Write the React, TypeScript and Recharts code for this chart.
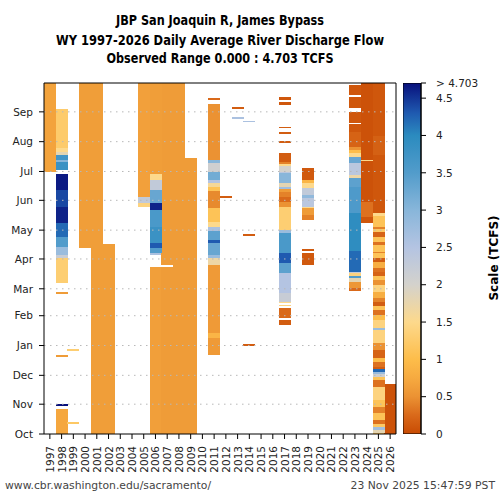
import React from "react";
import { Bar, BarChart, ReferenceLine, XAxis, YAxis } from "recharts";

// [startDay, endDay, TCFS] with day 0 = Oct 1 of the water year
type Seg = [number, number, number];

const years = [
  "1997", "1998", "1999", "2000", "2001", "2002", "2003", "2004", "2005", "2006",
  "2007", "2008", "2009", "2010", "2011", "2012", "2013", "2014", "2015", "2016",
  "2017", "2018", "2019", "2020", "2021", "2022", "2023", "2024", "2025", "2026",
];

const monthTicks = [0, 31, 61, 92, 123, 151, 182, 212, 243, 273, 304, 335];
const monthLabels = ["Oct", "Nov", "Dec", "Jan", "Feb", "Mar", "Apr", "May", "Jun", "Jul", "Aug", "Sep"];

const maxFlow = 4.703;
const scaleTicks = [0, 0.5, 1, 1.5, 2, 2.5, 3, 3.5, 4, 4.5, 4.703];

const wy1997: Seg[] = [[272, 365, 0.68]];
const wy1998: Seg[] = [
  [0, 26, 0.72], [29, 31, 4.7], [80, 82, 0.6], [146, 148, 0.6], [157, 183, 1.3], [183, 186, 2.2],
  [186, 194, 2.8], [194, 205, 3.5], [205, 219, 4.2], [219, 236, 4.6], [236, 254, 4.4], [254, 270, 4.65],
  [275, 283, 3.8], [283, 285, 3.0], [285, 290, 3.7], [290, 293, 1.8], [293, 297, 1.5], [297, 338, 1.25],
];
const wy1999: Seg[] = [[10, 12, 1.2], [86, 88, 1.3]];
const wy2000: Seg[] = [[193, 365, 0.62]];
const wy2001: Seg[] = [[0, 365, 0.62]];
const wy2002: Seg[] = [[0, 198, 0.62]];
const wy2003: Seg[] = [];
const wy2004: Seg[] = [];
const wy2005: Seg[] = [[236, 240, 1.4], [240, 246, 2.3], [246, 365, 0.65]];
const wy2006: Seg[] = [
  [0, 174, 0.64], [186, 188, 2.6], [188, 193, 3.5], [193, 199, 4.3], [199, 215, 3.8], [215, 233, 3.6],
  [233, 240, 4.6], [240, 254, 3.3], [254, 264, 2.3], [264, 270, 1.5], [270, 365, 0.62],
];
const wy2007: Seg[] = [[0, 174, 0.6], [176, 365, 0.6]];
const wy2008: Seg[] = [[0, 365, 0.6]];
const wy2009: Seg[] = [[0, 287, 0.6]];
const wy2010: Seg[] = [];
const wy2011: Seg[] = [
  [82, 100, 0.58], [100, 105, 0.9], [105, 176, 0.58], [176, 183, 1.7], [183, 186, 2.8], [186, 199, 3.3],
  [199, 202, 4.3], [202, 211, 3.4], [211, 215, 2.6], [215, 220, 1.5], [220, 235, 1.1], [235, 253, 0.45],
  [253, 257, 1.1], [257, 261, 1.6], [261, 264, 2.5], [264, 272, 3.2], [272, 282, 2.1], [282, 285, 3.0],
  [285, 343, 0.5], [347, 349, 0.25],
];
const wy2012: Seg[] = [[245, 247, 0.15]];
const wy2013: Seg[] = [[328, 330, 2.6], [338, 340, 0.15]];
const wy2014: Seg[] = [[92, 94, 0.15], [206, 208, 0.15], [324, 326, 2.6]];
const wy2015: Seg[] = [];
const wy2016: Seg[] = [];
const wy2017: Seg[] = [
  [113, 119, 0.15], [121, 131, 0.25], [133, 134, 1.4], [136, 137, 1.5], [137, 147, 2.2], [147, 167, 2.5],
  [167, 178, 3.4], [178, 188, 4.3], [188, 209, 3.6], [209, 212, 2.8], [212, 236, 1.3], [236, 241, 0.5],
  [241, 246, 0.25], [246, 252, 0.4], [252, 255, 0.6], [255, 257, 2.7], [257, 261, 1.8], [261, 271, 3.0],
  [271, 272, 2.4], [272, 279, 2.0], [279, 281, 1.5], [281, 283, 0.4], [283, 292, 0.15], [303, 305, 0.15],
  [312, 314, 0.15], [318, 319, 0.15], [342, 345, 0.1], [347, 350, 0.1],
];
const wy2018: Seg[] = [];
const wy2019: Seg[] = [
  [176, 188, 0.12], [190, 192, 0.12], [223, 228, 0.4], [228, 235, 0.6], [235, 236, 1.5], [236, 245, 2.4],
  [245, 249, 2.9], [249, 256, 2.3], [256, 261, 1.5], [261, 264, 0.9], [264, 277, 0.12],
];
const wy2020: Seg[] = [];
const wy2021: Seg[] = [];
const wy2022: Seg[] = [];
const wy2023: Seg[] = [
  [149, 152, 0.25], [152, 158, 0.55], [158, 162, 1.8], [162, 164, 3.5], [164, 167, 1.4], [167, 168, 2.2],
  [168, 190, 4.2], [190, 230, 3.95], [230, 257, 3.55], [257, 266, 3.4], [266, 269, 1.7], [269, 282, 2.4],
  [282, 288, 3.3], [288, 292, 1.5], [292, 295, 1.0], [295, 298, 0.5], [298, 314, 0.2], [314, 322, 0.1],
  [323, 335, 0.1], [339, 350, 0.1], [353, 363, 0.1],
];
const wy2024: Seg[] = [[219, 226, 0.1], [226, 241, 0.3], [241, 284, 0.06], [284, 285, 1.5], [285, 365, 0.06]];
const wy2025: Seg[] = [
  [0, 1, 1.2], [1, 4, 1.8], [4, 7, 2.7], [7, 10, 1.2], [10, 15, 0.3], [15, 22, 1.1], [22, 28, 0.4],
  [28, 35, 1.1], [35, 49, 1.4], [49, 56, 0.3], [56, 59, 1.1], [59, 62, 2.1], [62, 64, 2.8], [64, 68, 4.2],
  [68, 70, 0.15], [70, 75, 0.3], [75, 79, 1.0], [79, 87, 0.2], [87, 95, 0.5], [95, 108, 1.4], [108, 110, 2.8],
  [110, 119, 1.4], [119, 124, 1.0], [124, 129, 0.3], [129, 133, 1.1], [133, 137, 0.15], [137, 141, 0.4],
  [141, 148, 0.8], [148, 155, 1.4], [155, 160, 0.5], [160, 164, 1.1], [164, 168, 0.2], [168, 173, 0.3],
  [173, 179, 0.8], [179, 183, 0.15], [183, 188, 1.1], [188, 189, 0.4], [189, 197, 1.1], [197, 200, 0.3],
  [200, 205, 1.1], [205, 210, 0.2], [210, 213, 1.2], [213, 215, 0.4], [215, 227, 1.1], [227, 230, 1.5],
  [230, 290, 0.1], [290, 310, 0.18], [310, 365, 0.1],
];
const wy2026: Seg[] = [[0, 52, 0.06]];

const yearSegs: Seg[][] = [
  wy1997, wy1998, wy1999, wy2000, wy2001, wy2002, wy2003, wy2004, wy2005, wy2006,
  wy2007, wy2008, wy2009, wy2010, wy2011, wy2012, wy2013, wy2014, wy2015, wy2016,
  wy2017, wy2018, wy2019, wy2020, wy2021, wy2022, wy2023, wy2024, wy2025, wy2026,
];

// colour scale, orange (low) -> grey -> blue (high)
const cmap: [number, string][] = [
  [0, "#c84b03"],
  [0.25, "#d9691a"],
  [0.5, "#eb9233"],
  [0.75, "#f6aa40"],
  [1.0, "#fdbd4a"],
  [1.5, "#fdd98c"],
  [2.0, "#d4d2cc"],
  [2.5, "#b4c4e2"],
  [3.0, "#88b6da"],
  [3.5, "#529ccb"],
  [4.0, "#2b8bbf"],
  [4.3, "#1f5ab0"],
  [4.703, "#08107c"],
];

const hex = (h: string) => [1, 3, 5].map((i) => parseInt(h.slice(i, i + 2), 16));

function flowColor(v: number): string {
  const x = Math.max(0, Math.min(maxFlow, v));
  for (let i = 1; i < cmap.length; i++) {
    if (x <= cmap[i][0]) {
      const [v0, c0] = cmap[i - 1];
      const [v1, c1] = cmap[i];
      const t = (x - v0) / (v1 - v0);
      const a = hex(c0);
      const b = hex(c1);
      return `rgb(${a.map((ch, j) => Math.round(ch + (b[j] - ch) * t)).join(",")})`;
    }
  }
  return cmap[cmap.length - 1][1];
}

// stack pieces per year: gaps get no fill
const rows = years.map((yr, i) => {
  const row: Record<string, any> = { year: yr };
  let cursor = 0;
  let k = 0;
  [...yearSegs[i]].sort((a, b) => a[0] - b[0]).forEach(([s, e, v]) => {
    if (s > cursor) {
      row[`p${k}`] = s - cursor;
      row[`c${k}`] = "none";
      k++;
    }
    row[`p${k}`] = e - s;
    row[`c${k}`] = flowColor(v);
    k++;
    cursor = e;
  });
  row.n = k;
  return row;
});
const pieceCount = Math.max(...rows.map((r) => r.n));

const pieceShape = (k: number) => (props: any) => {
  const fill = props.payload?.[`c${k}`];
  if (!fill || fill === "none" || !props.height) return <g />;
  return (
    <rect
      x={props.x}
      y={props.y}
      width={props.width}
      height={props.height}
      fill={fill}
      shapeRendering="crispEdges"
    />
  );
};

const tickFont = { fontSize: 10.5, fill: "#222" };

function YearTick({ x, y, payload }: any) {
  return (
    <g transform={`translate(${x},${y})`}>
      <text transform="rotate(-90)" textAnchor="end" dy={4} fontSize={10.5} fill="#222">
        {payload.value}
      </text>
    </g>
  );
}

export default function App() {
  return (
    <div
      style={{
        position: "fixed",
        left: 0,
        top: 0,
        width: 500,
        height: 500,
        background: "#fff",
        fontFamily: "'DejaVu Sans', sans-serif",
      }}
    >
      <div style={{ position: "absolute", left: 0, top: 0 }}>
        <BarChart
          width={500}
          height={500}
          data={rows}
          margin={{ top: 83, right: 103, bottom: 16, left: 0 }}
          barCategoryGap={0}
          barGap={0}
        >
          <XAxis
            dataKey="year"
            interval={0}
            tick={(p: any) => <YearTick {...p} />}
            tickSize={5}
            tickMargin={7}
            tickLine={{ stroke: "#000" }}
            axisLine={{ stroke: "#000" }}
            height={50}
          />
          <YAxis
            type="number"
            domain={[0, 365]}
            ticks={monthTicks}
            interval={0}
            tickFormatter={(v: number) => monthLabels[monthTicks.indexOf(v)] ?? ""}
            tick={tickFont}
            tickSize={5}
            tickMargin={6}
            tickLine={{ stroke: "#000" }}
            axisLine={{ stroke: "#000" }}
            width={44}
            allowDataOverflow
          />
          <YAxis
            yAxisId="frame"
            orientation="right"
            domain={[0, 365]}
            tick={false}
            tickLine={false}
            axisLine={{ stroke: "#000" }}
            width={1}
          />
          {Array.from({ length: pieceCount }, (_, k) => (
            <Bar
              key={k}
              dataKey={`p${k}`}
              stackId="wy"
              shape={pieceShape(k)}
              isAnimationActive={false}
            />
          ))}
          {monthTicks.slice(1).map((t) => (
            <ReferenceLine key={t} y={t} stroke="#b8b8b8" strokeDasharray="1.5 4.5" />
          ))}
          <ReferenceLine y={365} stroke="#000" />
        </BarChart>
      </div>

      <div style={{ position: "absolute", left: 403, top: 0 }}>
        <BarChart
          width={97}
          height={500}
          data={[{ name: "scale", v: maxFlow }]}
          margin={{ top: 83, right: 0, bottom: 66, left: 0 }}
          barCategoryGap={0}
        >
          <defs>
            <linearGradient id="cbGrad" x1="0" y1="1" x2="0" y2="0">
              {cmap.map(([v, c]) => (
                <stop key={v} offset={v / maxFlow} stopColor={c} />
              ))}
            </linearGradient>
          </defs>
          <XAxis dataKey="name" hide />
          <YAxis
            orientation="right"
            type="number"
            domain={[0, maxFlow]}
            ticks={scaleTicks}
            interval={0}
            tickFormatter={(v: number) => (v === maxFlow ? "> 4.703" : String(v))}
            tick={tickFont}
            tickSize={5}
            tickMargin={10}
            tickLine={{ stroke: "#000" }}
            axisLine={{ stroke: "#000" }}
            width={79}
            allowDataOverflow
          />
          <Bar dataKey="v" fill="url(#cbGrad)" stroke="#000" strokeWidth={1} isAnimationActive={false} />
        </BarChart>
      </div>

      <svg
        width={500}
        height={500}
        style={{ position: "absolute", left: 0, top: 0, pointerEvents: "none" }}
      >
        <g
          fontFamily="'DejaVu Sans Condensed', 'DejaVu Sans', sans-serif"
          fontWeight="bold"
          fontSize={13.5}
          fill="#000"
          textAnchor="middle"
          style={{ fontStretch: "condensed" }}
        >
          <text x={220} y={25} textLength={208} lengthAdjust="spacingAndGlyphs">
            JBP San Joaquin R, James Bypass
          </text>
          <text x={220} y={45} textLength={328} lengthAdjust="spacingAndGlyphs">
            WY 1997-2026 Daily Average River Discharge Flow
          </text>
          <text x={220} y={63} textLength={227} lengthAdjust="spacingAndGlyphs">
            Observed Range 0.000 : 4.703 TCFS
          </text>
        </g>
        <text
          transform="translate(498,258) rotate(-90)"
          textAnchor="middle"
          fontSize={12}
          fontWeight="bold"
          fill="#000"
        >
          Scale (TCFS)
        </text>
        <text x={5} y={489} fontSize={10.8} fill="#444">
          www.cbr.washington.edu/sacramento/
        </text>
        <text x={495} y={489} fontSize={10.8} fill="#444" textAnchor="end">
          23 Nov 2025 15:47:59 PST
        </text>
      </svg>
    </div>
  );
}
